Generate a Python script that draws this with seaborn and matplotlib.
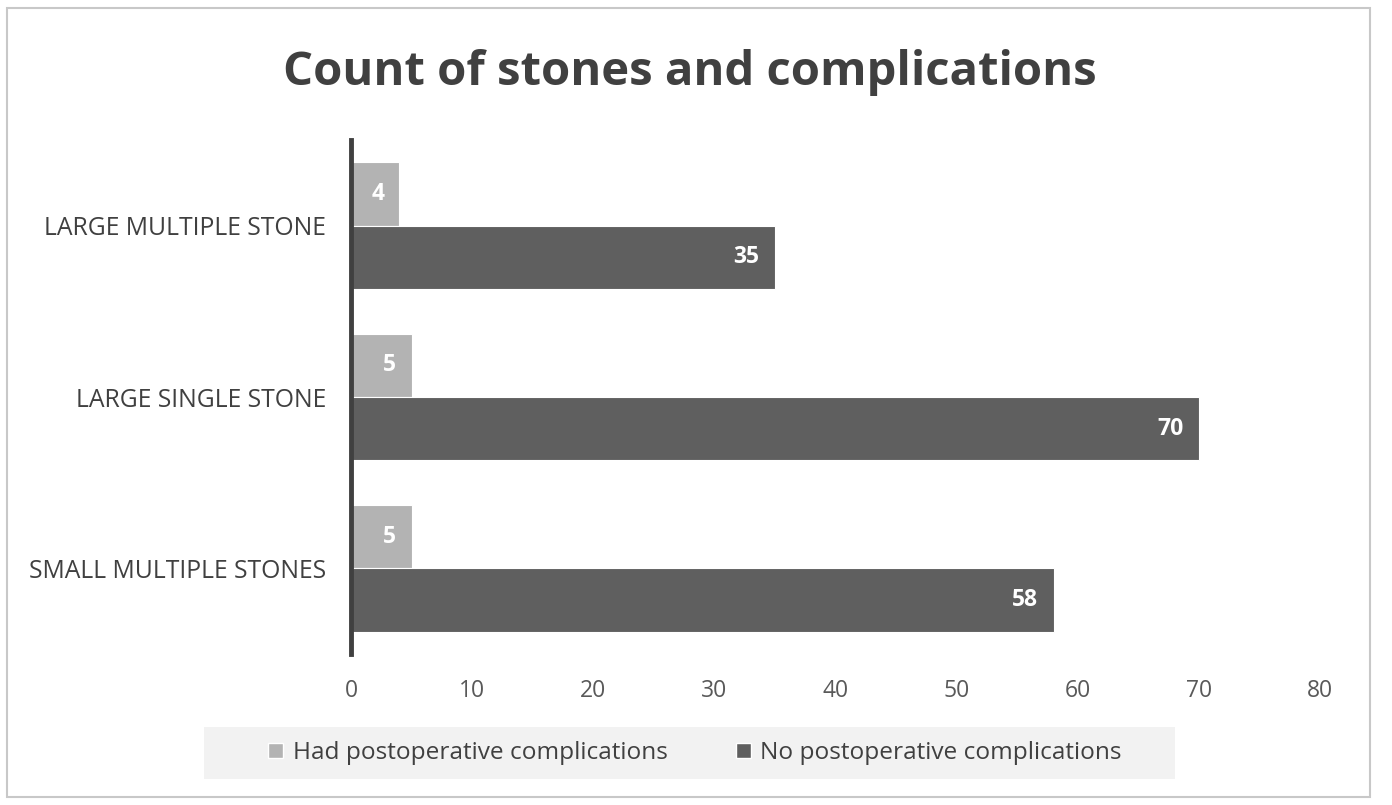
import matplotlib
matplotlib.use("Agg")
import matplotlib.pyplot as plt
import seaborn as sns
import pandas as pd
from matplotlib.patches import Rectangle

categories = ["LARGE MULTIPLE STONE", "LARGE SINGLE STONE", "SMALL MULTIPLE STONES"]
had_complications = [4, 5, 5]
no_complications = [35, 70, 58]
series_names = ["Had postoperative complications", "No postoperative complications"]
x_ticks = [0, 10, 20, 30, 40, 50, 60, 70, 80]

df = pd.DataFrame({
    "category": categories * 2,
    "value": had_complications + no_complications,
    "series": [series_names[0]] * 3 + [series_names[1]] * 3,
})

sns.set_theme(style="white")
plt.rcParams['font.family'] = ['Open Sans', 'DejaVu Sans']

W, H = 1392, 805
fig = plt.figure(figsize=(W / 100, H / 100), dpi=100)
ax = fig.add_axes([351 / W, 1 - 654 / H, (1320 - 351) / W, (654 - 140) / H])

colors = {series_names[0]: "#b3b3b3", series_names[1]: "#5f5f5f"}
sns.barplot(data=df, y="category", x="value", hue="series", order=categories,
            hue_order=series_names, palette=colors, orient="h", width=0.74,
            ax=ax, legend=False, edgecolor="white", linewidth=0.8)

ax.set_xlim(0, 80)
ax.set_ylim(2.5, -0.5)
ax.set_xticks(x_ticks)
ax.set_xticklabels([str(t) for t in x_ticks], fontsize=16.5, color="#595959")
ax.tick_params(axis="y", labelsize=17.8, labelcolor="#404040", length=0, pad=18)
ax.tick_params(axis="x", length=0, pad=18)
ax.set_xlabel("")
ax.set_ylabel("")
for s in ["top", "right", "bottom"]:
    ax.spines[s].set_visible(False)
ax.spines["left"].set_color("#404040")
ax.spines["left"].set_linewidth(3.5)
ax.grid(False)

for cont in ax.containers:
    for patch, val in zip(cont.patches, cont.datavalues):
        ax.annotate(f"{int(val)}",
                    xy=(patch.get_x() + patch.get_width(), patch.get_y() + patch.get_height() / 2),
                    xytext=(-11, 0), textcoords="offset points", ha="right", va="center",
                    color="white", fontsize=16.5, fontweight="bold")

fig.text(690 / W, 1 - 72 / H, "Count of stones and complications",
         ha="center", va="center", fontsize=34, fontweight="bold", color="#404040")

# legend background
fig.patches.append(Rectangle((204 / W, 1 - 779 / H), (1175 - 204) / W, (779 - 727) / H,
                             transform=fig.transFigure, facecolor="#f2f2f2",
                             edgecolor="none", zorder=0))
handles = [Rectangle((0, 0), 1, 1, facecolor=colors[n], edgecolor="white") for n in series_names]
fig.legend(handles, series_names, loc="center", bbox_to_anchor=(695 / W, 1 - 753 / H),
           ncol=2, frameon=False, fontsize=17.6, handlelength=0.6, handleheight=0.6,
           handletextpad=0.4, columnspacing=2.8, labelcolor="#404040")

# outer border
fig.patches.append(Rectangle((7 / W, 1 - 797 / H), (1370 - 7) / W, (797 - 8) / H,
                             transform=fig.transFigure, facecolor="none",
                             edgecolor="#c8c8c8", linewidth=1.5, zorder=0))

fig.savefig("out.png", dpi=100, facecolor="white")
